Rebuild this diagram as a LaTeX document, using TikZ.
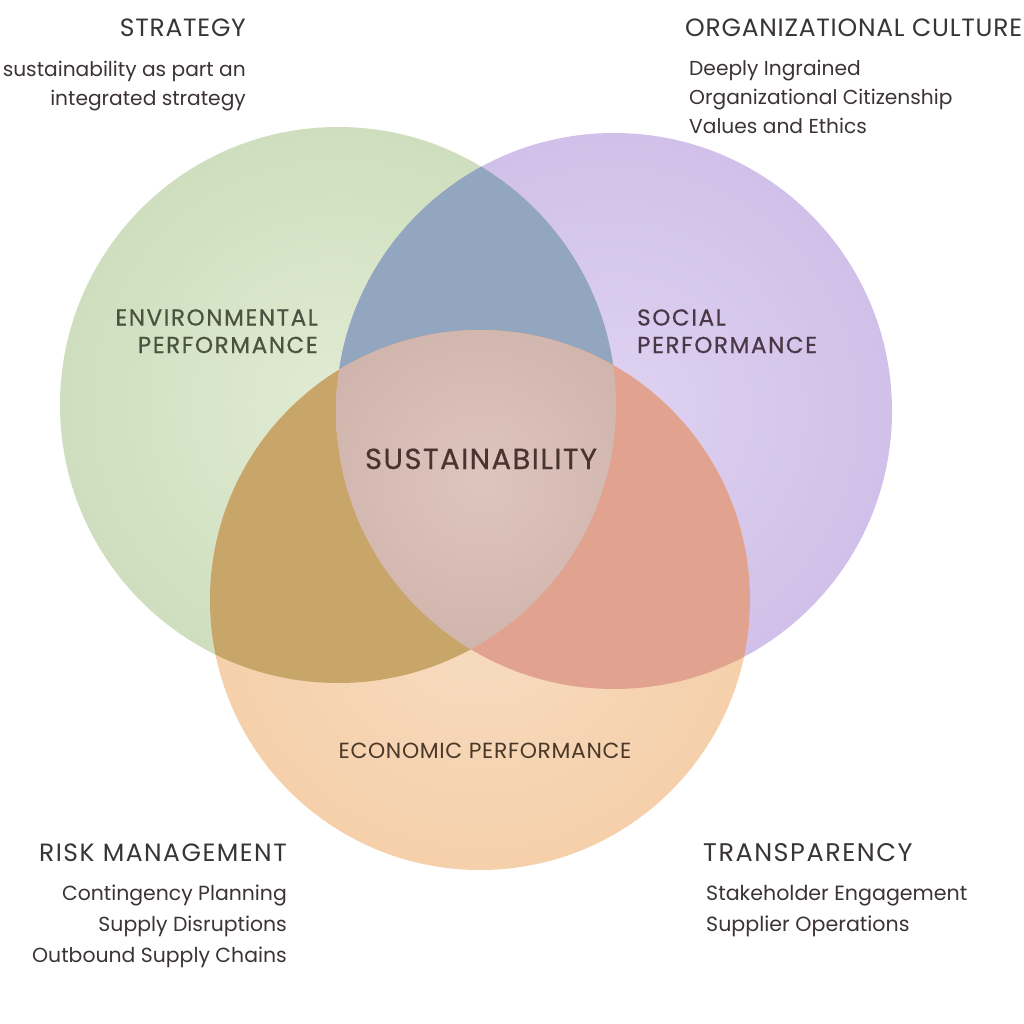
\documentclass[tikz,border=0pt]{standalone}
\usepackage{fontspec}
\setmainfont{Poppins}
\newfontfamily\semib[FakeBold=0.6,LetterSpace=7]{Poppins}
\newfontfamily\susfont[FakeBold=0.6,LetterSpace=5]{Poppins}
\newfontfamily\headfont[LetterSpace=3]{Poppins}
\newfontfamily\widehead[LetterSpace=6]{Poppins}
\definecolor{gin}{HTML}{E1ECD3}
\definecolor{gout}{HTML}{BCD0A9}
\definecolor{pin}{HTML}{DED2F1}
\definecolor{pout}{HTML}{C4AEE1}
\definecolor{oin}{HTML}{F8DDC2}
\definecolor{oout}{HTML}{F1C293}
\definecolor{gpcol}{HTML}{93A6BF}
\definecolor{gocol}{HTML}{C8A66A}
\definecolor{pocol}{HTML}{E1A38F}
\definecolor{cin}{HTML}{DEC5BD}
\definecolor{cout}{HTML}{BE9F98}
\definecolor{headtext}{HTML}{3A3535}
\definecolor{bodytext}{HTML}{3C3434}
\definecolor{envtext}{HTML}{4A5240}
\definecolor{soctext}{HTML}{4A3848}
\definecolor{sustext}{HTML}{4A3430}
\definecolor{ecotext}{HTML}{4A3828}
\pgfdeclareradialshading{gshade}{\pgfpoint{0bp}{0bp}}{color(0bp)=(gin); color(50bp)=(gout)}
\pgfdeclareradialshading{pshade}{\pgfpoint{0bp}{0bp}}{color(0bp)=(pin); color(50bp)=(pout)}
\pgfdeclareradialshading{oshade}{\pgfpoint{0bp}{0bp}}{color(0bp)=(oin); color(50bp)=(oout)}
\pgfdeclareradialshading{cshade}{\pgfpoint{0bp}{0bp}}{color(0bp)=(cin); color(50bp)=(cout)}
\begin{document}
\begin{tikzpicture}[x=1pt,y=-1pt,
  head/.style={text=headtext,font=\headfont\fontsize{25}{28}\selectfont,inner sep=0pt},
  body/.style={text=bodytext,font=\fontsize{20.2}{29}\selectfont,inner sep=0pt},
  inlabel/.style={font=\semib\fontsize{23}{27.5}\selectfont,inner sep=0pt}]
\useasboundingbox[fill=white] (0,0) rectangle (1024,1024);
\coordinate (G) at (338,405);
\coordinate (P) at (614,411);
\coordinate (O) at (480,600);
% base circles
\shade[shading=gshade] (G) circle[radius=278];
\shade[shading=pshade] (P) circle[radius=278];
\shade[shading=oshade] (O) circle[radius=270];
% pairwise overlaps
\begin{scope}
  \clip (G) circle[radius=278];
  \fill[gpcol] (P) circle[radius=278];
  \fill[gocol] (O) circle[radius=270];
\end{scope}
\begin{scope}
  \clip (P) circle[radius=278];
  \fill[pocol] (O) circle[radius=270];
\end{scope}
% triple overlap
\begin{scope}
  \clip (G) circle[radius=278];
  \clip (P) circle[radius=278];
  \clip (O) circle[radius=270];
  \shade[shading=cshade] (481,480) circle[radius=200];
\end{scope}
% labels inside
\node[inlabel,text=envtext,anchor=base east,align=right] (env) at (318,353) {ENVIRONMENTAL\\PERFORMANCE};
\node[inlabel,text=soctext,anchor=base west,align=left] (soc) at (637,353) {SOCIAL\\PERFORMANCE};
\node[text=sustext,font=\susfont\fontsize{29}{30}\selectfont,inner sep=0pt,anchor=base] (sus) at (481,469) {SUSTAINABILITY};
\node[text=ecotext,font=\headfont\fontsize{21.9}{24}\selectfont,inner sep=0pt,anchor=base] (eco) at (485,758) {ECONOMIC PERFORMANCE};
% corner texts
\node[head,anchor=base east] (strat) at (246,37) {STRATEGY};
\node[body,anchor=base east,align=right] (stratb) at (246,106) {sustainability as part an\\integrated strategy};
\node[head,anchor=base west] (org) at (685,37) {ORGANIZATIONAL CULTURE};
\node[body,anchor=base west,align=left] (orgb) at (689,134) {Deeply Ingrained\\Organizational Citizenship\\Values and Ethics};
\node[head,anchor=base east,font=\widehead\fontsize{25}{28}\selectfont] (risk) at (287,861) {RISK MANAGEMENT};
\node[body,anchor=base east,align=right,font=\fontsize{20.4}{31}\selectfont] (riskb) at (287,962) {Contingency Planning\\Supply Disruptions\\Outbound Supply Chains};
\node[head,anchor=base west,font=\widehead\fontsize{25.5}{28}\selectfont] (trans) at (703,861) {TRANSPARENCY};
\node[body,anchor=base west,align=left,font=\fontsize{20.6}{31}\selectfont] (transb) at (706,931) {Stakeholder Engagement\\Supplier Operations};
\end{tikzpicture}
\end{document}
